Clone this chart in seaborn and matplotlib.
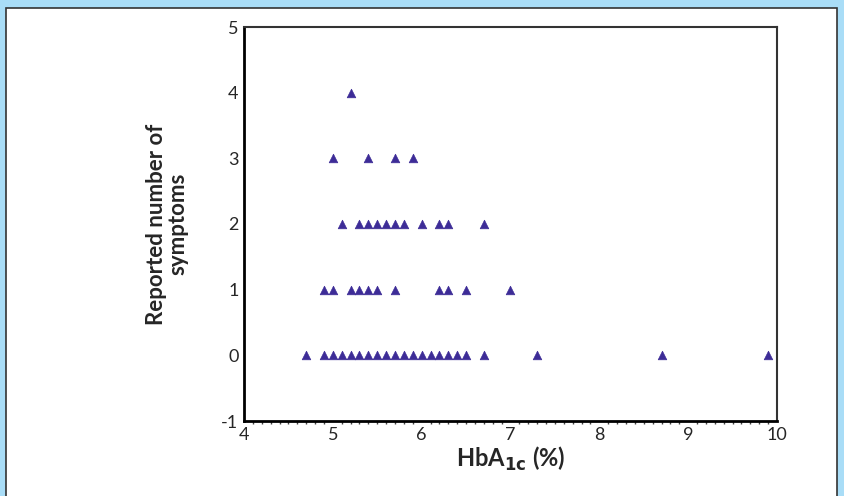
import numpy as np
import pandas as pd
import matplotlib.pyplot as plt
import seaborn as sns
from matplotlib.patches import Rectangle
from matplotlib.ticker import MultipleLocator

# HbA1c values (%) for each reported symptom count
hba1c_0 = [4.7, 4.9, 5.0, 5.1, 5.2, 5.3, 5.4, 5.5, 5.6, 5.7, 5.8, 5.9, 6.0,
           6.1, 6.2, 6.3, 6.4, 6.5, 6.7, 7.3, 8.7, 9.9]
hba1c_1 = [4.9, 5.0, 5.2, 5.3, 5.4, 5.5, 5.7, 6.2, 6.3, 6.5, 7.0]
hba1c_2 = [5.1, 5.3, 5.4, 5.5, 5.6, 5.7, 5.8, 6.0, 6.2, 6.3, 6.7]
hba1c_3 = [5.0, 5.4, 5.7, 5.9]
hba1c_4 = [5.2]

groups = {0: hba1c_0, 1: hba1c_1, 2: hba1c_2, 3: hba1c_3, 4: hba1c_4}
df = pd.DataFrame([(x, n) for n, xs in groups.items() for x in xs],
                  columns=["hba1c", "symptoms"])

x_ticks = [4, 5, 6, 7, 8, 9, 10]
y_ticks = [-1, 0, 1, 2, 3, 4, 5]

sns.set_style("white")
plt.rcParams["font.family"] = ["Lato", "DejaVu Sans"]

fig = plt.figure(figsize=(8.44, 4.96), dpi=100)
fig.patch.set_facecolor("#a9ddf7")
# white panel with dark frame, kept behind the axes
fig.patches.append(Rectangle((6 / 844, -0.05), 831 / 844, 1 - 8 / 496 + 0.05,
                             transform=fig.transFigure, facecolor="white",
                             edgecolor="#333333", linewidth=1.2, zorder=-5))

ax = fig.add_axes([244 / 844, 1 - 421 / 496, 533 / 844, 394 / 496])
ax.set_facecolor("none")
sns.scatterplot(data=df, x="hba1c", y="symptoms", marker="^", s=38,
                color="#3d2c97", edgecolor="#3d2c97", linewidth=0.5, ax=ax)

ax.set_xlim(4, 10)
ax.set_ylim(-1, 5)
ax.set_xticks(x_ticks)
ax.set_yticks(y_ticks)
ax.set_xticklabels([str(t) for t in x_ticks], fontsize=13)
ax.set_yticklabels([str(t) for t in y_ticks], fontsize=13)
ax.xaxis.set_minor_locator(MultipleLocator(0.1))
ax.tick_params(axis="both", which="major", direction="out", length=3,
               width=2.5, color="black", pad=1)
ax.tick_params(axis="x", which="minor", direction="out", length=2,
               width=1, color="#444444", bottom=True)

for side in ["left", "bottom"]:
    ax.spines[side].set_color("black")
    ax.spines[side].set_linewidth(2)
for side in ["top", "right"]:
    ax.spines[side].set_visible(True)
    ax.spines[side].set_color("#333333")
    ax.spines[side].set_linewidth(1.5)

ax.set_xlabel("HbA$_{\\mathbf{1c}}$ (%)", fontsize=17, fontweight="bold")
ax.xaxis.set_label_coords(0.5, -0.06)
ax.set_ylabel("Reported number of\nsymptoms", fontsize=16,
              fontweight="bold", linespacing=1.0)
ax.yaxis.set_label_coords(-0.105, 0.5)

fig.savefig("out.png", dpi=100, facecolor=fig.get_facecolor())
